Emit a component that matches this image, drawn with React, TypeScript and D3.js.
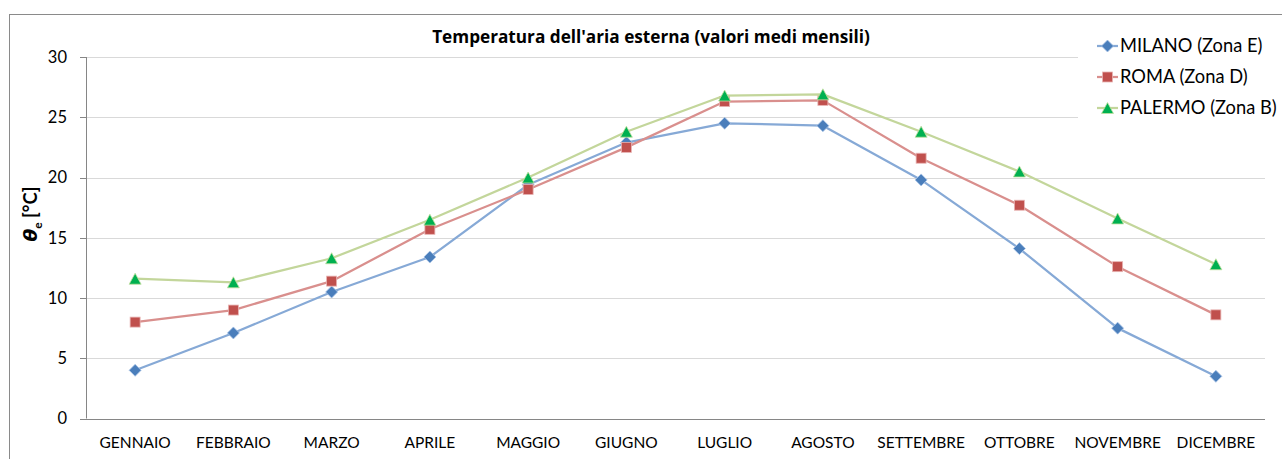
import React from "react";
import * as d3 from "d3";

const months = ["GENNAIO","FEBBRAIO","MARZO","APRILE","MAGGIO","GIUGNO","LUGLIO","AGOSTO","SETTEMBRE","OTTOBRE","NOVEMBRE","DICEMBRE"];
const milano = [4.0, 7.1, 10.5, 13.4, 19.4, 22.9, 24.5, 24.3, 19.8, 14.1, 7.5, 3.5];
const roma = [8.0, 9.0, 11.4, 15.7, 19.0, 22.5, 26.3, 26.4, 21.6, 17.7, 12.6, 8.6];
const palermo = [11.6, 11.3, 13.3, 16.5, 20.0, 23.8, 26.8, 26.9, 23.8, 20.5, 16.6, 12.8];
const yTicks = [0, 5, 10, 15, 20, 25, 30];
const seriesNames = ["MILANO (Zona E)", "ROMA (Zona D)", "PALERMO (Zona B)"];
const title = "Temperatura dell'aria esterna (valori medi mensili)";

const W = 1282, H = 459;
const FONT = "Lato, 'Open Sans', sans-serif";

const series = [
  { name: seriesNames[0], values: milano, line: "#86a9d6", fill: "#4a7ebb", stroke: "#a9c4e6", shape: "diamond" },
  { name: seriesNames[1], values: roma, line: "#d98f8d", fill: "#c0504d", stroke: "#e8b4b3", shape: "square" },
  { name: seriesNames[2], values: palermo, line: "#c3d69b", fill: "#00b050", stroke: "#c3e0a0", shape: "triangle" },
];

function Marker({ shape, x, y, fill, stroke }: any) {
  if (shape === "diamond") {
    const r = 6;
    return <path d={`M${x},${y - r}L${x + r},${y}L${x},${y + r}L${x - r},${y}Z`} fill={fill} stroke={stroke} strokeWidth={0.8} />;
  }
  if (shape === "square") {
    const s = 10;
    return <rect x={x - s / 2} y={y - s / 2} width={s} height={s} fill={fill} stroke={stroke} strokeWidth={0.8} />;
  }
  const w = 12, h = 11;
  return <path d={`M${x},${y - h / 2}L${x + w / 2},${y + h / 2}L${x - w / 2},${y + h / 2}Z`} fill={fill} stroke={stroke} strokeWidth={0.8} />;
}

export default function App() {
  const left = 86, right = 1265, top = 57, bottom = 418.5;
  const x = d3.scaleBand<string>().domain(months).range([left, right]);
  const y = d3.scaleLinear().domain([0, 30]).range([bottom, top]);
  const cx = (m: string) => (x(m) as number) + x.bandwidth() / 2;
  const line = d3.line<number>().x((_, i) => cx(months[i])).y((v) => y(v));

  const legX = 1097, legY0 = 46, legDy = 31;

  return (
    <svg width={W} height={H} style={{ position: "absolute", left: 0, top: 0, background: "#fff" }} fontFamily={FONT}>
      <rect x={0} y={0} width={W} height={H} fill="#fff" />
      <rect x={9.5} y={14.5} width={W + 20} height={H + 20} fill="#fff" stroke="#8a8a8a" strokeWidth={1} />
      {/* gridlines */}
      {yTicks.filter((t) => t > 0).map((t) => (
        <line key={t} x1={left} x2={right} y1={Math.round(y(t)) + 0.5} y2={Math.round(y(t)) + 0.5} stroke="#d9d9d9" strokeWidth={1} />
      ))}
      {/* axes */}
      <line x1={left + 0.5} x2={left + 0.5} y1={top} y2={bottom} stroke="#868686" />
      <line x1={left - 6} x2={right} y1={Math.round(bottom) + 0.5} y2={Math.round(bottom) + 0.5} stroke="#868686" />
      {yTicks.map((t) => (
        <g key={t}>
          <line x1={left - 6} x2={left} y1={Math.round(y(t)) + 0.5} y2={Math.round(y(t)) + 0.5} stroke="#868686" />
          <text x={left - 19} y={y(t)} dy="0.35em" textAnchor="end" fontSize={16.5} fill="#000">{t}</text>
        </g>
      ))}
      {months.map((m) => (
        <text key={m} x={cx(m)} y={443} dy="0.35em" textAnchor="middle" fontSize={15.5} fill="#000">{m}</text>
      ))}
      {/* y label */}
      <text transform={`translate(37,214) rotate(-90)`} textAnchor="middle" fontSize={18.5} fontWeight="bold" fill="#000">
        <tspan fontStyle="italic" fontFamily="'DejaVu Sans', sans-serif" fontSize={18.5}>θ</tspan>
        <tspan fontSize={12} dy={5}>e</tspan>
        <tspan dy={-5}> [°C]</tspan>
      </text>
      {/* series */}
      {series.map((s) => (
        <g key={s.name}>
          <path d={line(s.values) || ""} fill="none" stroke={s.line} strokeWidth={2.25} strokeLinejoin="round" />
          {s.values.map((v, i) => (
            <Marker key={i} shape={s.shape} x={cx(months[i])} y={y(v)} fill={s.fill} stroke={s.stroke} />
          ))}
        </g>
      ))}
      {/* title */}
      <text x={651} y={37} dy="0.35em" textAnchor="middle" fontSize={17.2} fontWeight="bold" fontFamily="'Open Sans', sans-serif" fill="#000">{title}</text>
      {/* legend */}
      <rect x={1078} y={24} width={210} height={102} fill="#fff" />
      {series.map((s, i) => {
        const ly = legY0 + i * legDy;
        return (
          <g key={s.name}>
            <line x1={legX} x2={legX + 21} y1={ly} y2={ly} stroke={s.line} strokeWidth={2.25} />
            <Marker shape={s.shape} x={legX + 10.5} y={ly} fill={s.fill} stroke={s.stroke} />
            <text x={legX + 23} y={ly} dy="0.35em" fontSize={18.3} fill="#000">{s.name}</text>
          </g>
        );
      })}
    </svg>
  );
}
